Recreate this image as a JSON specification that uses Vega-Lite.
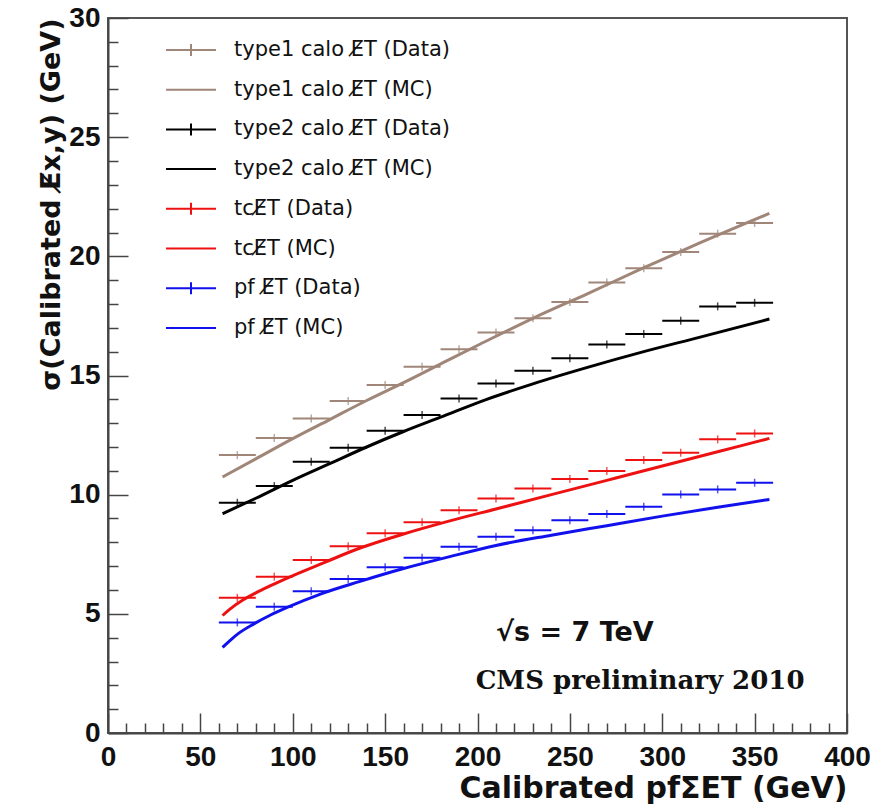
{
  "$schema": "https://vega.github.io/schema/vega-lite/v6.json",
  "width": 739,
  "height": 715,
  "autosize": {"type": "none"},
  "padding": {"left": 108, "top": 18, "right": 42, "bottom": 76},
  "background": "white",
  "config": {"view": {"stroke": "#555", "strokeWidth": 2}, "font": "Liberation Sans"},
  "datasets": {
    "meas": [
      {"series": "type1 calo E\u0338T (Data)", "lo": 60, "hi": 80, "x": 70, "sigma": 11.66},
      {"series": "type1 calo E\u0338T (Data)", "lo": 80, "hi": 100, "x": 90, "sigma": 12.38},
      {"series": "type1 calo E\u0338T (Data)", "lo": 100, "hi": 120, "x": 110, "sigma": 13.2},
      {"series": "type1 calo E\u0338T (Data)", "lo": 120, "hi": 140, "x": 130, "sigma": 13.93},
      {"series": "type1 calo E\u0338T (Data)", "lo": 140, "hi": 160, "x": 150, "sigma": 14.6},
      {"series": "type1 calo E\u0338T (Data)", "lo": 160, "hi": 180, "x": 170, "sigma": 15.37},
      {"series": "type1 calo E\u0338T (Data)", "lo": 180, "hi": 200, "x": 190, "sigma": 16.1},
      {"series": "type1 calo E\u0338T (Data)", "lo": 200, "hi": 220, "x": 210, "sigma": 16.8},
      {"series": "type1 calo E\u0338T (Data)", "lo": 220, "hi": 240, "x": 230, "sigma": 17.4},
      {"series": "type1 calo E\u0338T (Data)", "lo": 240, "hi": 260, "x": 250, "sigma": 18.08},
      {"series": "type1 calo E\u0338T (Data)", "lo": 260, "hi": 280, "x": 270, "sigma": 18.9},
      {"series": "type1 calo E\u0338T (Data)", "lo": 280, "hi": 300, "x": 290, "sigma": 19.5},
      {"series": "type1 calo E\u0338T (Data)", "lo": 300, "hi": 320, "x": 310, "sigma": 20.18},
      {"series": "type1 calo E\u0338T (Data)", "lo": 320, "hi": 340, "x": 330, "sigma": 20.95},
      {"series": "type1 calo E\u0338T (Data)", "lo": 340, "hi": 360, "x": 350, "sigma": 21.4},
      {"series": "type2 calo E\u0338T (Data)", "lo": 60, "hi": 80, "x": 70, "sigma": 9.66},
      {"series": "type2 calo E\u0338T (Data)", "lo": 80, "hi": 100, "x": 90, "sigma": 10.36},
      {"series": "type2 calo E\u0338T (Data)", "lo": 100, "hi": 120, "x": 110, "sigma": 11.38},
      {"series": "type2 calo E\u0338T (Data)", "lo": 120, "hi": 140, "x": 130, "sigma": 11.97},
      {"series": "type2 calo E\u0338T (Data)", "lo": 140, "hi": 160, "x": 150, "sigma": 12.68},
      {"series": "type2 calo E\u0338T (Data)", "lo": 160, "hi": 180, "x": 170, "sigma": 13.34},
      {"series": "type2 calo E\u0338T (Data)", "lo": 180, "hi": 200, "x": 190, "sigma": 14.04},
      {"series": "type2 calo E\u0338T (Data)", "lo": 200, "hi": 220, "x": 210, "sigma": 14.66},
      {"series": "type2 calo E\u0338T (Data)", "lo": 220, "hi": 240, "x": 230, "sigma": 15.2},
      {"series": "type2 calo E\u0338T (Data)", "lo": 240, "hi": 260, "x": 250, "sigma": 15.72},
      {"series": "type2 calo E\u0338T (Data)", "lo": 260, "hi": 280, "x": 270, "sigma": 16.3},
      {"series": "type2 calo E\u0338T (Data)", "lo": 280, "hi": 300, "x": 290, "sigma": 16.74},
      {"series": "type2 calo E\u0338T (Data)", "lo": 300, "hi": 320, "x": 310, "sigma": 17.3},
      {"series": "type2 calo E\u0338T (Data)", "lo": 320, "hi": 340, "x": 330, "sigma": 17.9},
      {"series": "type2 calo E\u0338T (Data)", "lo": 340, "hi": 360, "x": 350, "sigma": 18.05},
      {"series": "tcE\u0338T (Data)", "lo": 60, "hi": 80, "x": 70, "sigma": 5.67},
      {"series": "tcE\u0338T (Data)", "lo": 80, "hi": 100, "x": 90, "sigma": 6.56},
      {"series": "tcE\u0338T (Data)", "lo": 100, "hi": 120, "x": 110, "sigma": 7.26},
      {"series": "tcE\u0338T (Data)", "lo": 120, "hi": 140, "x": 130, "sigma": 7.84},
      {"series": "tcE\u0338T (Data)", "lo": 140, "hi": 160, "x": 150, "sigma": 8.38},
      {"series": "tcE\u0338T (Data)", "lo": 160, "hi": 180, "x": 170, "sigma": 8.84},
      {"series": "tcE\u0338T (Data)", "lo": 180, "hi": 200, "x": 190, "sigma": 9.35},
      {"series": "tcE\u0338T (Data)", "lo": 200, "hi": 220, "x": 210, "sigma": 9.84},
      {"series": "tcE\u0338T (Data)", "lo": 220, "hi": 240, "x": 230, "sigma": 10.26},
      {"series": "tcE\u0338T (Data)", "lo": 240, "hi": 260, "x": 250, "sigma": 10.66},
      {"series": "tcE\u0338T (Data)", "lo": 260, "hi": 280, "x": 270, "sigma": 10.99},
      {"series": "tcE\u0338T (Data)", "lo": 280, "hi": 300, "x": 290, "sigma": 11.45},
      {"series": "tcE\u0338T (Data)", "lo": 300, "hi": 320, "x": 310, "sigma": 11.76},
      {"series": "tcE\u0338T (Data)", "lo": 320, "hi": 340, "x": 330, "sigma": 12.32},
      {"series": "tcE\u0338T (Data)", "lo": 340, "hi": 360, "x": 350, "sigma": 12.57},
      {"series": "pf E\u0338T (Data)", "lo": 60, "hi": 80, "x": 70, "sigma": 4.64},
      {"series": "pf E\u0338T (Data)", "lo": 80, "hi": 100, "x": 90, "sigma": 5.3},
      {"series": "pf E\u0338T (Data)", "lo": 100, "hi": 120, "x": 110, "sigma": 5.95},
      {"series": "pf E\u0338T (Data)", "lo": 120, "hi": 140, "x": 130, "sigma": 6.46},
      {"series": "pf E\u0338T (Data)", "lo": 140, "hi": 160, "x": 150, "sigma": 6.95},
      {"series": "pf E\u0338T (Data)", "lo": 160, "hi": 180, "x": 170, "sigma": 7.35},
      {"series": "pf E\u0338T (Data)", "lo": 180, "hi": 200, "x": 190, "sigma": 7.81},
      {"series": "pf E\u0338T (Data)", "lo": 200, "hi": 220, "x": 210, "sigma": 8.23},
      {"series": "pf E\u0338T (Data)", "lo": 220, "hi": 240, "x": 230, "sigma": 8.51},
      {"series": "pf E\u0338T (Data)", "lo": 240, "hi": 260, "x": 250, "sigma": 8.93},
      {"series": "pf E\u0338T (Data)", "lo": 260, "hi": 280, "x": 270, "sigma": 9.19},
      {"series": "pf E\u0338T (Data)", "lo": 280, "hi": 300, "x": 290, "sigma": 9.49},
      {"series": "pf E\u0338T (Data)", "lo": 300, "hi": 320, "x": 310, "sigma": 10.01},
      {"series": "pf E\u0338T (Data)", "lo": 320, "hi": 340, "x": 330, "sigma": 10.22},
      {"series": "pf E\u0338T (Data)", "lo": 340, "hi": 360, "x": 350, "sigma": 10.5}
    ],
    "mc": [
      {"series": "type1 calo E\u0338T (MC)", "x": 62, "sigma": 10.74},
      {"series": "type1 calo E\u0338T (MC)", "x": 80, "sigma": 11.5},
      {"series": "type1 calo E\u0338T (MC)", "x": 100, "sigma": 12.35},
      {"series": "type1 calo E\u0338T (MC)", "x": 120, "sigma": 13.15},
      {"series": "type1 calo E\u0338T (MC)", "x": 140, "sigma": 13.95},
      {"series": "type1 calo E\u0338T (MC)", "x": 160, "sigma": 14.7},
      {"series": "type1 calo E\u0338T (MC)", "x": 183, "sigma": 15.6},
      {"series": "type1 calo E\u0338T (MC)", "x": 201, "sigma": 16.3},
      {"series": "type1 calo E\u0338T (MC)", "x": 230, "sigma": 17.4},
      {"series": "type1 calo E\u0338T (MC)", "x": 260, "sigma": 18.45},
      {"series": "type1 calo E\u0338T (MC)", "x": 288, "sigma": 19.45},
      {"series": "type1 calo E\u0338T (MC)", "x": 320, "sigma": 20.55},
      {"series": "type1 calo E\u0338T (MC)", "x": 358, "sigma": 21.8},
      {"series": "type2 calo E\u0338T (MC)", "x": 62, "sigma": 9.2},
      {"series": "type2 calo E\u0338T (MC)", "x": 80, "sigma": 9.85},
      {"series": "type2 calo E\u0338T (MC)", "x": 100, "sigma": 10.6},
      {"series": "type2 calo E\u0338T (MC)", "x": 120, "sigma": 11.3},
      {"series": "type2 calo E\u0338T (MC)", "x": 140, "sigma": 12.0},
      {"series": "type2 calo E\u0338T (MC)", "x": 160, "sigma": 12.65},
      {"series": "type2 calo E\u0338T (MC)", "x": 180, "sigma": 13.25},
      {"series": "type2 calo E\u0338T (MC)", "x": 205, "sigma": 14.0},
      {"series": "type2 calo E\u0338T (MC)", "x": 230, "sigma": 14.65},
      {"series": "type2 calo E\u0338T (MC)", "x": 260, "sigma": 15.35},
      {"series": "type2 calo E\u0338T (MC)", "x": 290, "sigma": 16.0},
      {"series": "type2 calo E\u0338T (MC)", "x": 320, "sigma": 16.6},
      {"series": "type2 calo E\u0338T (MC)", "x": 358, "sigma": 17.37},
      {"series": "tcE\u0338T (MC)", "x": 62, "sigma": 4.93},
      {"series": "tcE\u0338T (MC)", "x": 66, "sigma": 5.2},
      {"series": "tcE\u0338T (MC)", "x": 73, "sigma": 5.58},
      {"series": "tcE\u0338T (MC)", "x": 80, "sigma": 5.88},
      {"series": "tcE\u0338T (MC)", "x": 88, "sigma": 6.18},
      {"series": "tcE\u0338T (MC)", "x": 97, "sigma": 6.5},
      {"series": "tcE\u0338T (MC)", "x": 117, "sigma": 7.15},
      {"series": "tcE\u0338T (MC)", "x": 135, "sigma": 7.72},
      {"series": "tcE\u0338T (MC)", "x": 160, "sigma": 8.35},
      {"series": "tcE\u0338T (MC)", "x": 185, "sigma": 8.9},
      {"series": "tcE\u0338T (MC)", "x": 210, "sigma": 9.4},
      {"series": "tcE\u0338T (MC)", "x": 240, "sigma": 10.0},
      {"series": "tcE\u0338T (MC)", "x": 270, "sigma": 10.6},
      {"series": "tcE\u0338T (MC)", "x": 300, "sigma": 11.2},
      {"series": "tcE\u0338T (MC)", "x": 330, "sigma": 11.8},
      {"series": "tcE\u0338T (MC)", "x": 358, "sigma": 12.36},
      {"series": "pf E\u0338T (MC)", "x": 62, "sigma": 3.59},
      {"series": "pf E\u0338T (MC)", "x": 66, "sigma": 3.88},
      {"series": "pf E\u0338T (MC)", "x": 71, "sigma": 4.2},
      {"series": "pf E\u0338T (MC)", "x": 79, "sigma": 4.58},
      {"series": "pf E\u0338T (MC)", "x": 88, "sigma": 4.95},
      {"series": "pf E\u0338T (MC)", "x": 97, "sigma": 5.27},
      {"series": "pf E\u0338T (MC)", "x": 115, "sigma": 5.83},
      {"series": "pf E\u0338T (MC)", "x": 136, "sigma": 6.35},
      {"series": "pf E\u0338T (MC)", "x": 160, "sigma": 6.9},
      {"series": "pf E\u0338T (MC)", "x": 185, "sigma": 7.4},
      {"series": "pf E\u0338T (MC)", "x": 210, "sigma": 7.87},
      {"series": "pf E\u0338T (MC)", "x": 240, "sigma": 8.3},
      {"series": "pf E\u0338T (MC)", "x": 270, "sigma": 8.7},
      {"series": "pf E\u0338T (MC)", "x": 300, "sigma": 9.1},
      {"series": "pf E\u0338T (MC)", "x": 330, "sigma": 9.47},
      {"series": "pf E\u0338T (MC)", "x": 358, "sigma": 9.8}
    ]
  },
  "resolve": {"axis": {"x": "independent", "y": "independent"}},
  "layer": [
    {
      "data": {"name": "meas"},
      "mark": {"type": "rule", "strokeWidth": 2},
      "encoding": {
        "x": {
          "field": "lo", "type": "quantitative",
          "scale": {"domain": [0, 400], "nice": false, "zero": false},
          "axis": {
            "orient": "bottom", "values": [0, 50, 100, 150, 200, 250, 300, 350, 400],
            "title": "Calibrated pfΣET (GeV)", "titleAnchor": "end", "titleFontSize": 30,
            "titleFont": "DejaVu Sans", "titleFontWeight": "bold", "titleColor": "#111", "titlePadding": 2,
            "labelFontSize": 28, "labelFontWeight": "bold", "labelColor": "#111",
            "labelPadding": 30, "labelFlush": false, "labelOverlap": false,
            "tickSize": -20, "tickColor": "#444", "tickWidth": 1.5,
            "domainColor": "#444", "domainWidth": 2, "grid": false
          }
        },
        "x2": {"field": "hi"},
        "y": {
          "field": "sigma", "type": "quantitative",
          "scale": {"domain": [0, 30], "nice": false, "zero": false},
          "axis": {
            "orient": "left", "values": [0, 5, 10, 15, 20, 25, 30],
            "title": "σ(Calibrated E\u0338x,y) (GeV)", "titleAnchor": "end", "titleFontSize": 27,
            "titleFont": "DejaVu Sans", "titleFontWeight": "bold", "titleColor": "#111", "titlePadding": 3,
            "labelFontSize": 28, "labelFontWeight": "bold", "labelColor": "#111",
            "labelPadding": 28, "labelFlush": false, "labelOverlap": false,
            "tickSize": -20, "tickColor": "#444", "tickWidth": 1.5,
            "domainColor": "#444", "domainWidth": 2, "grid": false
          }
        },
        "color": {
          "field": "series", "type": "nominal",
          "scale": {
            "domain": ["type1 calo E\u0338T (Data)", "type1 calo E\u0338T (MC)", "type2 calo E\u0338T (Data)", "type2 calo E\u0338T (MC)", "tcE\u0338T (Data)", "tcE\u0338T (MC)", "pf E\u0338T (Data)", "pf E\u0338T (MC)"],
            "range": ["#a08678", "#a08678", "#000000", "#000000", "#ee1111", "#ee1111", "#1111ee", "#1111ee"]
          },
          "legend": {
            "orient": "none", "legendX": 72, "legendY": 21, "title": null,
            "labelFontSize": 21, "labelFont": "DejaVu Sans", "labelColor": "#111",
            "labelOffset": 32, "labelLimit": 400,
            "symbolType": "stroke", "symbolSize": 400, "symbolStrokeWidth": 2,
            "rowPadding": 18.7,
            "encode": {
              "symbols": {
                "update": {
                  "shape": {"signal": "indexof(datum.value, 'Data') >= 0 ? 'M-2.5,0H2.5M0,-0.6V0.6' : 'M-2.5,0H2.5'"}
                }
              }
            }
          }
        }
      }
    },
    {
      "data": {"name": "meas"},
      "mark": {"type": "tick", "orient": "vertical", "size": 8, "thickness": 1.5},
      "encoding": {
        "x": {"field": "x", "type": "quantitative", "axis": null},
        "y": {"field": "sigma", "type": "quantitative", "axis": null},
        "color": {"field": "series", "type": "nominal"}
      }
    },
    {
      "data": {"name": "mc"},
      "mark": {"type": "line", "strokeWidth": 3, "interpolate": "monotone"},
      "encoding": {
        "x": {
          "field": "x", "type": "quantitative",
          "axis": {
            "orient": "bottom", "values": [10, 20, 30, 40, 60, 70, 80, 90, 110, 120, 130, 140, 160, 170, 180, 190, 210, 220, 230, 240, 260, 270, 280, 290, 310, 320, 330, 340, 360, 370, 380, 390],
            "labels": false, "domain": false, "title": null, "grid": false,
            "tickSize": -10, "tickColor": "#444", "tickWidth": 1.5
          }
        },
        "y": {
          "field": "sigma", "type": "quantitative",
          "axis": {
            "orient": "left", "values": [1, 2, 3, 4, 6, 7, 8, 9, 11, 12, 13, 14, 16, 17, 18, 19, 21, 22, 23, 24, 26, 27, 28, 29],
            "labels": false, "domain": false, "title": null, "grid": false,
            "tickSize": -10, "tickColor": "#444", "tickWidth": 1.5
          }
        },
        "color": {"field": "series", "type": "nominal"}
      }
    },
    {
      "data": {"values": [{}]},
      "mark": {"type": "text", "text": "√s = 7 TeV", "align": "left", "baseline": "middle", "fontSize": 27, "fontWeight": "bold", "font": "DejaVu Sans", "color": "#111"},
      "encoding": {
        "x": {"datum": 210, "type": "quantitative", "axis": null},
        "y": {"datum": 4.2, "type": "quantitative", "axis": null}
      }
    },
    {
      "data": {"values": [{}]},
      "mark": {"type": "text", "text": "CMS preliminary 2010", "align": "left", "baseline": "middle", "fontSize": 26, "fontWeight": "bold", "font": "DejaVu Serif", "color": "#111"},
      "encoding": {
        "x": {"datum": 199, "type": "quantitative", "axis": null},
        "y": {"datum": 2.2, "type": "quantitative", "axis": null}
      }
    }
  ]
}
